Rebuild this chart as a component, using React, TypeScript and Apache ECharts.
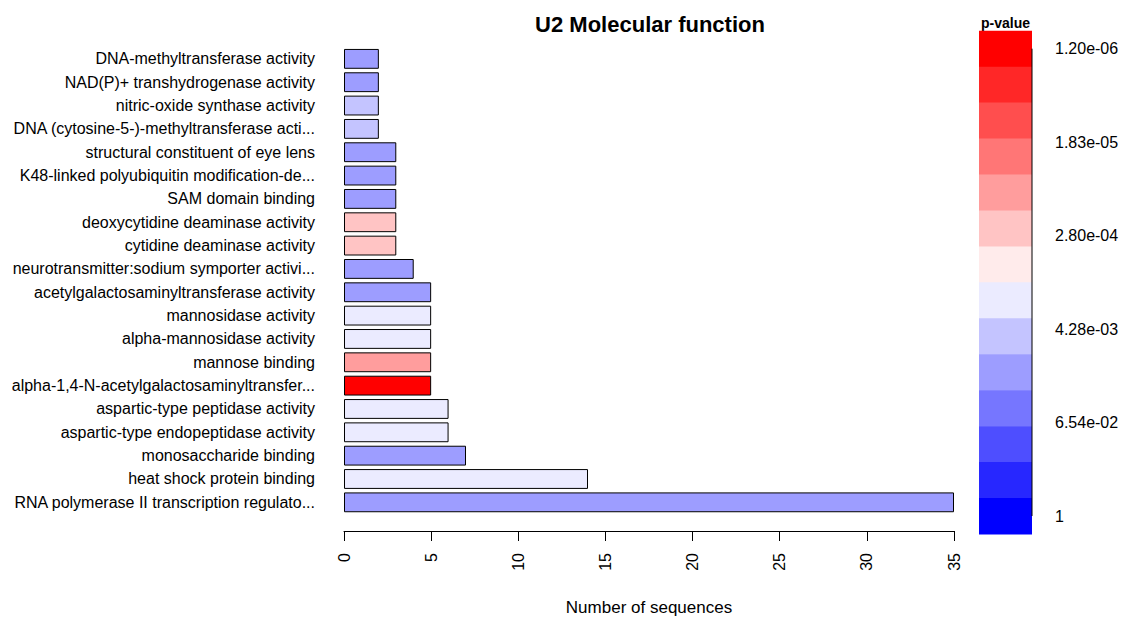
import React, { useEffect, useRef } from "react";
import * as echarts from "echarts";

const categories: string[] = [
  "DNA-methyltransferase activity",
  "NAD(P)+ transhydrogenase activity",
  "nitric-oxide synthase activity",
  "DNA (cytosine-5-)-methyltransferase acti...",
  "structural constituent of eye lens",
  "K48-linked polyubiquitin modification-de...",
  "SAM domain binding",
  "deoxycytidine deaminase activity",
  "cytidine deaminase activity",
  "neurotransmitter:sodium symporter activi...",
  "acetylgalactosaminyltransferase activity",
  "mannosidase activity",
  "alpha-mannosidase activity",
  "mannose binding",
  "alpha-1,4-N-acetylgalactosaminyltransfer...",
  "aspartic-type peptidase activity",
  "aspartic-type endopeptidase activity",
  "monosaccharide binding",
  "heat shock protein binding",
  "RNA polymerase II transcription regulato...",
];

const counts: number[] = [2, 2, 2, 2, 3, 3, 3, 3, 3, 4, 5, 5, 5, 5, 5, 6, 6, 7, 14, 35];

// estimated p-values (read from bar colour bins)
const pValues: number[] = [
  0.015, 0.015, 0.0053, 0.0053, 0.015, 0.015, 0.015, 0.00023, 0.00023, 0.015,
  0.015, 0.0019, 0.0019, 0.00008, 0.0000012, 0.0019, 0.0019, 0.015, 0.0019, 0.015,
];

const legendTickLabels: string[] = ["1.20e-06", "1.83e-05", "2.80e-04", "4.28e-03", "6.54e-02", "1"];

const palette: string[] = [
  "#FF0000", "#FF2727", "#FF4E4E", "#FF7676", "#FF9D9D", "#FFC4C4", "#FFEBEB",
  "#EBEBFF", "#C4C4FF", "#9D9DFF", "#7676FF", "#4E4EFF", "#2727FF", "#0000FF",
];

const FONT = "'Liberation Sans', Arial, Helvetica, sans-serif";

export default function App() {
  const ref = useRef<HTMLDivElement>(null);

  useEffect(() => {
    if (!ref.current) return;
    const chart = echarts.init(ref.current, undefined, { renderer: "svg" });

    const logMin = Math.log10(parseFloat(legendTickLabels[0]));
    const logMax = Math.log10(parseFloat(legendTickLabels[legendTickLabels.length - 1]));
    const nBins = palette.length;
    const step = (logMax - logMin) / (nBins - 1);
    const binOf = (p: number) =>
      Math.max(0, Math.min(nBins - 1, Math.round((Math.log10(p) - logMin) / step)));
    const tickVals = legendTickLabels.map((s) => Math.log10(parseFloat(s)));

    const option: any = {
      animation: false,
      backgroundColor: "#ffffff",
      textStyle: { fontFamily: FONT },
      title: {
        text: "U2 Molecular function",
        left: 645,
        textAlign: "center",
        top: 8,
        textStyle: { fontFamily: FONT, fontSize: 22, fontWeight: "bold", color: "#000" },
      },
      grid: [
        { left: 344, right: 170, top: 47.2, height: 470.8, containLabel: false },
        { left: 979, right: 92, top: 30.7, height: 503.3, containLabel: false },
      ],
      xAxis: [
        {
          type: "value",
          gridIndex: 0,
          min: 0,
          max: 35,
          interval: 5,
          offset: 17,
          position: "bottom",
          axisLine: { show: true, lineStyle: { color: "#000", width: 1 } },
          axisTick: { show: true, length: 10, lineStyle: { color: "#000" } },
          axisLabel: { rotate: 90, fontSize: 16, color: "#000", margin: 22, fontFamily: FONT },
          splitLine: { show: false },
          name: "Number of sequences",
          nameLocation: "middle",
          nameGap: 68,
          nameTextStyle: { fontSize: 17, color: "#000", fontFamily: FONT },
        },
        { type: "value", gridIndex: 1, min: 0, max: 1, show: false },
      ],
      yAxis: [
        {
          type: "category",
          gridIndex: 0,
          inverse: true,
          data: categories,
          axisLine: { show: false },
          axisTick: { show: false },
          axisLabel: { fontSize: 16, color: "#000", margin: 29, fontFamily: FONT },
        },
        {
          type: "value",
          gridIndex: 1,
          inverse: true,
          position: "right",
          min: logMin - step / 2,
          max: logMax + step / 2,
          axisLine: { show: true, lineStyle: { color: "rgba(0,0,0,0)" } },
          splitLine: { show: false },
          axisTick: {
            show: true,
            length: 13,
            customValues: tickVals,
            lineStyle: { color: "#000", width: 1 },
          },
          axisLabel: {
            show: true,
            customValues: tickVals,
            margin: 23,
            fontSize: 16,
            color: "#000",
            fontFamily: FONT,
            formatter: (v: number) => {
              let best = 0;
              tickVals.forEach((t, i) => {
                if (Math.abs(t - v) < Math.abs(tickVals[best] - v)) best = i;
              });
              return legendTickLabels[best];
            },
          },
        },
      ],
      series: [
        {
          type: "bar",
          xAxisIndex: 0,
          yAxisIndex: 0,
          barCategoryGap: "15%",
          data: counts.map((v, i) => ({
            value: v,
            itemStyle: { color: palette[binOf(pValues[i])], borderColor: "#000", borderWidth: 1 },
          })),
        },
        {
          type: "custom",
          xAxisIndex: 1,
          yAxisIndex: 1,
          z: 1,
          data: palette.map((_, i) => [i]),
          renderItem: (params: any, api: any) => {
            const i = params.dataIndex;
            const lo = logMin + (i - 0.5) * step;
            const hi = logMin + (i + 0.5) * step;
            const p1 = api.coord([0, lo]);
            const p2 = api.coord([1, hi]);
            return {
              type: "rect",
              shape: {
                x: p1[0],
                y: Math.min(p1[1], p2[1]),
                width: p2[0] - p1[0],
                height: Math.abs(p2[1] - p1[1]) + 0.6,
              },
              style: { fill: palette[i] },
            };
          },
        },
      ],
    };

    chart.setOption(option);

    const top = chart.convertToPixel({ gridIndex: 1 } as any, [1, tickVals[0]]) as number[];
    const bot = chart.convertToPixel({ gridIndex: 1 } as any, [1, tickVals[tickVals.length - 1]]) as number[];
    const left = chart.convertToPixel({ gridIndex: 1 } as any, [0, tickVals[0]]) as number[];
    const gridTop = chart.convertToPixel({ gridIndex: 1 } as any, [0, logMin - step / 2]) as number[];
    chart.setOption({
      graphic: [
        {
          type: "line",
          shape: { x1: top[0], y1: top[1], x2: bot[0], y2: bot[1] },
          style: { stroke: "#000", lineWidth: 1 },
          z: 10,
        },
        {
          type: "text",
          x: (top[0] + left[0]) / 2,
          y: gridTop[1] - 1,
          style: {
            text: "p-value",
            fontFamily: FONT,
            fontSize: 14,
            fontWeight: "bold",
            fill: "#000",
            align: "center",
            verticalAlign: "bottom",
          },
        },
      ],
    });

    return () => chart.dispose();
  }, []);

  return (
    <div
      ref={ref}
      style={{ position: "fixed", left: 0, top: 0, width: 1124, height: 621, background: "#fff" }}
    />
  );
}
